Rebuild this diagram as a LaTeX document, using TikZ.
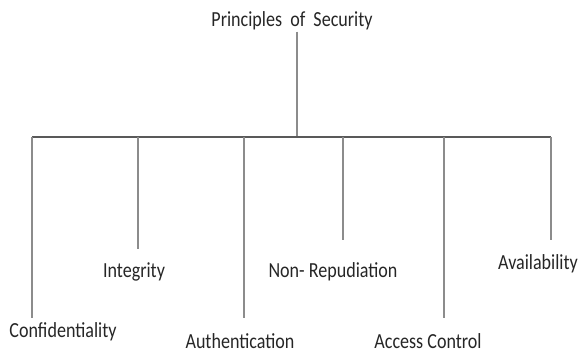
\documentclass[tikz,border=0pt]{standalone}
\usepackage{fontspec}
\setmainfont{Carlito}[FakeStretch=0.84]

\begin{document}
\begin{tikzpicture}[x=1pt,y=-1pt,
  principle/.style={text=black!85, font=\fontsize{21.5}{26}\selectfont, inner sep=0pt, anchor=base},
  stem/.style={black!45, line width=1.6pt},
  bar/.style={black!65, line width=1.6pt}]

\useasboundingbox (0,0) rectangle (581,354);

% Heading and the point where it meets the bar
\node[principle] (sec) at (292,26) {Principles\ \ of\ \ Security};
\coordinate (hub) at (297,137);

% Branch points on the bar
\coordinate (b1) at (32,137);
\coordinate (b2) at (138,137);
\coordinate (b3) at (244,137);
\coordinate (b4) at (343,137);
\coordinate (b5) at (444,137);
\coordinate (b6) at (551,137);

% Lower ends of the branches
\coordinate (e1) at (32,318);
\coordinate (e2) at (138,249);
\coordinate (e3) at (244,318);
\coordinate (e4) at (343,240);
\coordinate (e5) at (444,318);
\coordinate (e6) at (551,240);

% Draw stem, bar and branches
\draw[stem] ([yshift=-2pt]hub |- sec.south) -- (hub);
\draw[bar] (b1) -- (b6);
\draw[stem] (b1) -- (e1);
\draw[stem] (b2) -- (e2);
\draw[stem] (b3) -- (e3);
\draw[stem] (b4) -- (e4);
\draw[stem] (b5) -- (e5);
\draw[stem] (b6) -- (e6);

% Labels under the branches
\node[principle] (conf) at (63,337) {Confidentiality};
\node[principle] (integ) at (134,277) {Integrity};
\node[principle] (auth) at (240,348) {Authentication};
\node[principle] (nonrep) at (333,277) {Non-\ Repudiation};
\node[principle] (access) at (428,348) {Access Control};
\node[principle] (avail) at (538,269) {Availability};

\end{tikzpicture}
\end{document}
